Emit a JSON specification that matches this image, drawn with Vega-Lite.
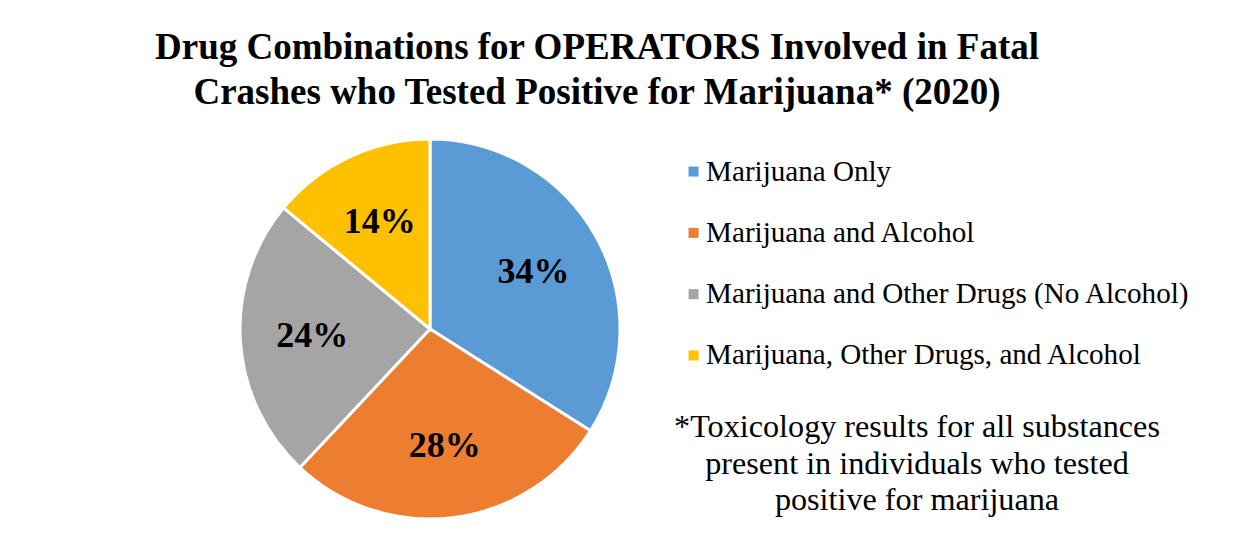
{
  "$schema": "https://vega.github.io/schema/vega-lite/v6.json",
  "width": 380,
  "height": 380,
  "autosize": {"type": "none"},
  "padding": {"left": 240, "top": 139, "right": 634, "bottom": 20},
  "background": "white",
  "config": {"view": {"stroke": null}, "font": "Liberation Serif"},
  "title": {
    "text": ["Drug Combinations for OPERATORS Involved in Fatal", "Crashes who Tested Positive for Marijuana* (2020)"],
    "font": "Liberation Serif",
    "fontSize": 37,
    "fontWeight": "bold",
    "color": "black",
    "anchor": "middle",
    "dx": 167,
    "offset": 21,
    "lineHeight": 45
  },
  "data": {
    "values": [
      {"category": "Marijuana Only", "value": 0.34, "idx": 1},
      {"category": "Marijuana and Alcohol", "value": 0.28, "idx": 2},
      {"category": "Marijuana and Other Drugs (No Alcohol)", "value": 0.24, "idx": 3},
      {"category": "Marijuana, Other Drugs, and Alcohol", "value": 0.14, "idx": 4}
    ]
  },
  "encoding": {
    "theta": {"field": "value", "type": "quantitative", "stack": true},
    "order": {"field": "idx", "type": "quantitative"},
    "color": {
      "field": "category",
      "type": "nominal",
      "scale": {
        "domain": ["Marijuana Only", "Marijuana and Alcohol", "Marijuana and Other Drugs (No Alcohol)", "Marijuana, Other Drugs, and Alcohol"],
        "range": ["#5B9BD5", "#ED7D31", "#A5A5A5", "#FFC000"]
      },
      "legend": {
        "orient": "none",
        "legendX": 434,
        "legendY": 18,
        "symbolType": "square",
        "symbolSize": 100,
        "symbolStrokeWidth": 0,
        "labelFont": "Liberation Serif",
        "labelFontSize": 29.1,
        "labelColor": "black",
        "labelOffset": -2,
        "labelLimit": 0,
        "rowPadding": 31.3,
        "title": ["*Toxicology results for all substances", "present in individuals who tested", "positive for marijuana"],
        "titleOrient": "bottom",
        "titleFont": "Liberation Serif",
        "titleFontSize": 32.2,
        "titleFontWeight": "normal",
        "titleColor": "black",
        "titleAnchor": "middle",
        "titleAlign": "center",
        "titleLineHeight": 36.5,
        "titlePadding": 41,
        "titleLimit": 0,
        "encoding": {"title": {"dx": {"value": -18}}}
      }
    }
  },
  "layer": [
    {"mark": {"type": "arc", "outerRadius": 190, "stroke": "white", "strokeWidth": 3}},
    {
      "mark": {"type": "text", "radius": 118, "font": "Liberation Serif", "fontSize": 36, "fontWeight": "bold", "color": "black", "baseline": "middle", "align": "center"},
      "encoding": {
        "text": {"field": "value", "type": "quantitative", "format": ".0%"},
        "color": {"value": "black"}
      }
    }
  ]
}
